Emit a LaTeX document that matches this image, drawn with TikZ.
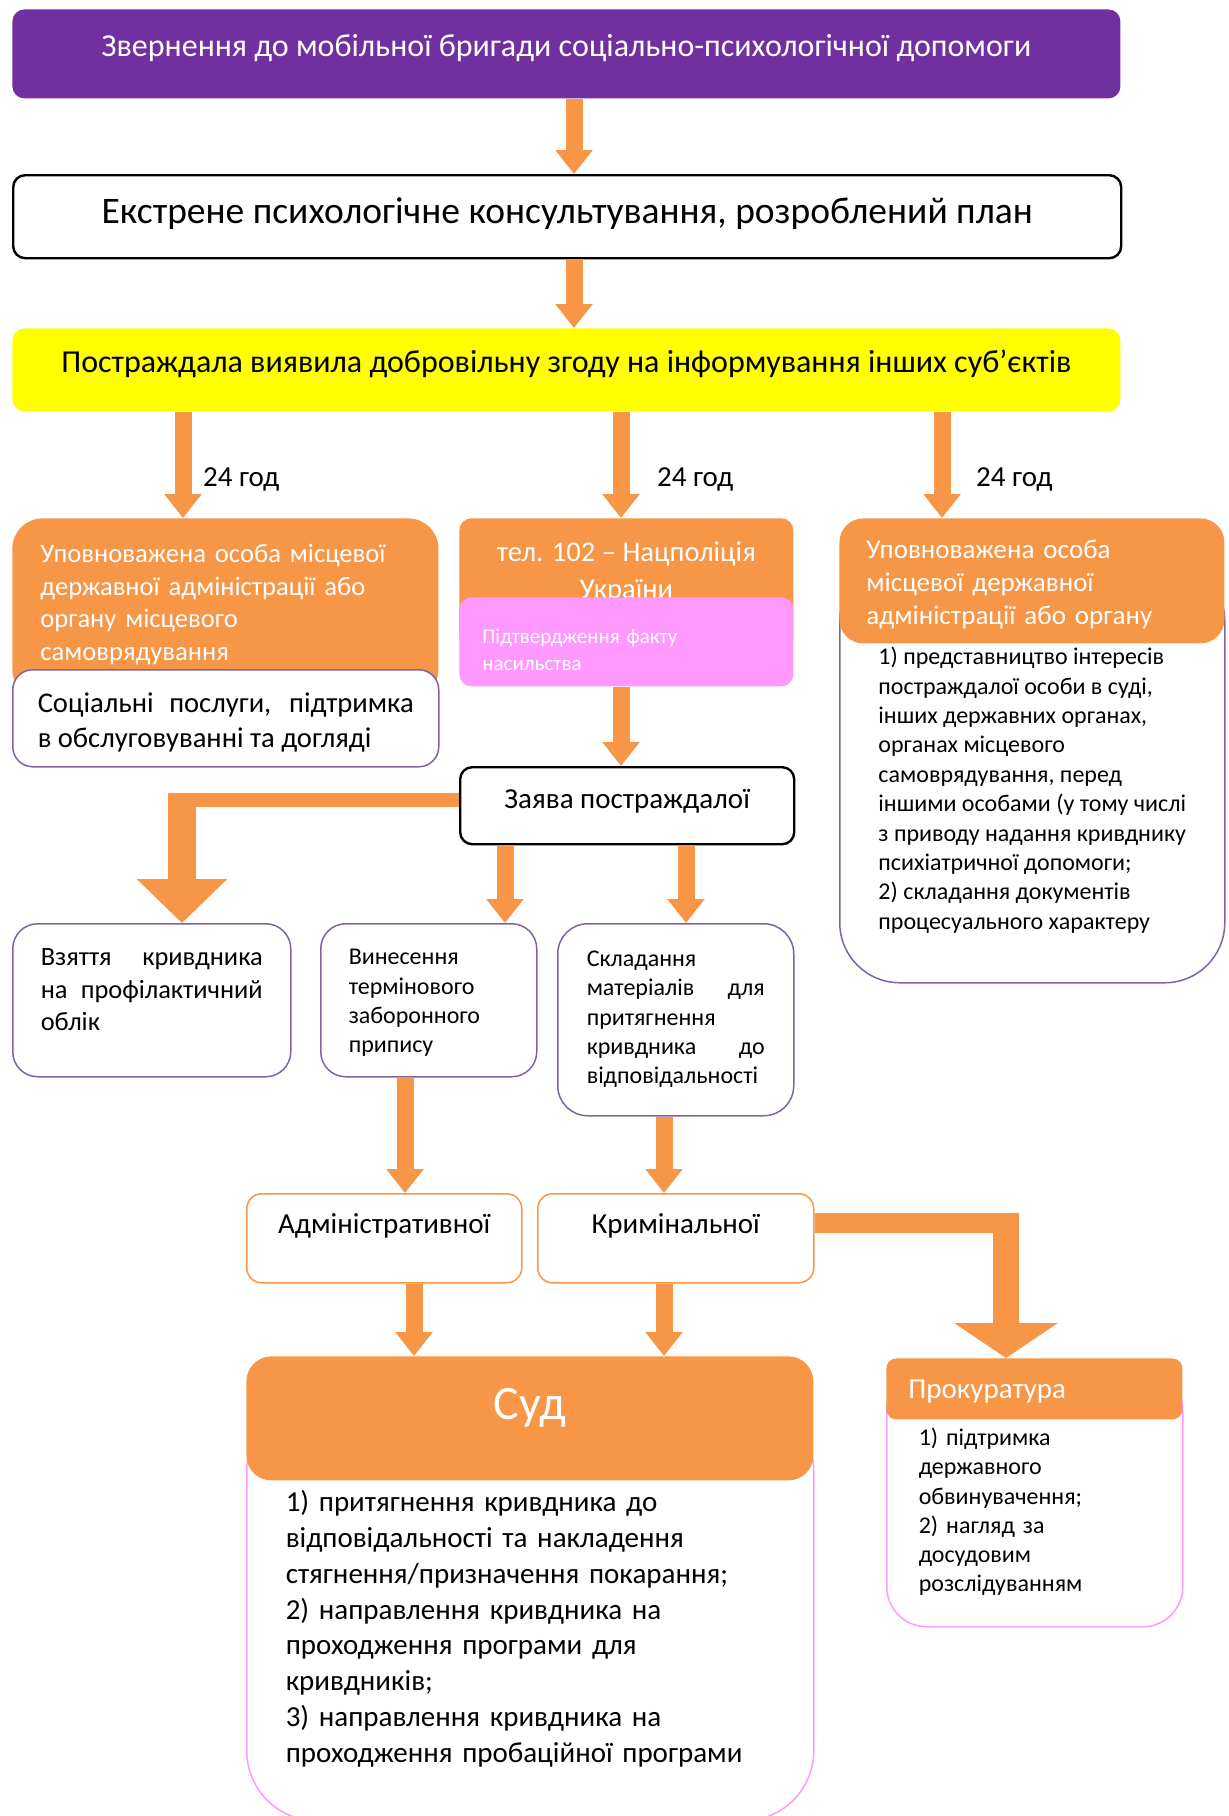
\documentclass[tikz,border=0pt]{standalone}
\usepackage{fontspec}
\setmainfont{Carlito}
\usepackage{xcolor}
\usetikzlibrary{positioning,arrows.meta}
\hyphenpenalty=10000
\exhyphenpenalty=10000
\definecolor{purpc}{HTML}{7030A0}
\definecolor{orangec}{HTML}{F79646}
\definecolor{yellowc}{HTML}{FFFF00}
\definecolor{pinkc}{HTML}{FF99FF}
\definecolor{violc}{HTML}{8064A2}
\newcommand{\fs}[2]{\fontsize{#1}{#2}\selectfont}
\tikzstyle{cellbox} = [anchor=north west, inner ysep=0pt, align=left]
\tikzstyle{banner} = [cellbox, rounded corners=6pt, minimum width=554pt, align=center]
\tikzstyle{hdr} = [cellbox, fill=orangec, text=white]
\tikzstyle{vbdy} = [cellbox, draw=violc, line width=0.75pt, fill=white]
\tikzstyle{pbdy} = [cellbox, draw=pinkc, line width=0.75pt, fill=white]
\tikzstyle{obox} = [cellbox, draw=orangec, line width=0.75pt, rounded corners=7.5pt, align=center, font=\fs{14.5}{17.5}, text height=20pt, text depth=24.5pt]
\tikzstyle{hrs} = [anchor=base west, font=\fs{14.5}{17.5}]
\tikzstyle{line} = [draw=orangec, line width=8.5pt, -{Triangle[width=18pt,length=12pt]}]
\tikzstyle{fatline} = [draw=orangec, line width=14pt, -{Triangle[width=44pt,length=22pt]}]
\tikzstyle{fatlineR} = [draw=orangec, line width=13pt, -{Triangle[width=51pt,length=17.5pt]}]

\begin{document}
\begin{tikzpicture}[x=0.5pt, y=-0.5pt]
        \useasboundingbox (0,0) rectangle (1229,1816);
        % Place nodes
        \node at (12,9) [banner, fill=purpc, text=white, font=\fs{16}{19}, text height=23.5pt, text depth=21pt] (title) {Звернення до мобільної бригади соціально-психологічної допомоги};
        \node at (12,174) [banner, draw=black, line width=1.2pt, font=\fs{18.75}{22}, text height=24pt, text depth=17.5pt] (consult) {Екстрене психологічне консультування, розроблений план};
        \node at (12,328) [banner, fill=yellowc, font=\fs{16}{19}, text height=22pt, text depth=19.5pt] (consent) {Постраждала виявила добровільну згоду на інформування інших суб’єктів};

        \node at (196,486) [hrs] (hrsA) {24 год};
        \node at (650,486) [hrs] (hrsB) {24 год};
        \node at (969,486) [hrs] (hrsC) {24 год};

        \node at (12,518) [hdr, rounded corners=15pt, minimum width=213pt, inner xsep=14pt, text width=185pt, font=\fs{13.3}{16.3}, text height=22pt, text depth=68.5pt] (loc1head) {Уповноважена особа місцевої\\державної адміністрації або\\органу місцевого\\самоврядування};
        \node at (12,669) [vbdy, rounded corners=10pt, minimum width=213pt, inner xsep=12.5pt, text width=188pt, align=justify, font=\fs{14.3}{17.5}, text height=21.5pt, text depth=27pt] (loc1body) {Соціальні послуги, підтримка\linebreak в обслуговуванні та догляді};

        \node at (459,518) [hdr, rounded corners=6pt, minimum width=167pt, align=center, font=\fs{14.3}{18.3}, text height=40pt, text depth=26pt] (police) {тел. 102 – Нацполіція\\України};
        \node at (459,597) [hdr, fill=pinkc, rounded corners=6pt, minimum width=167pt, inner xsep=11.5pt, text width=144pt, font=\fs{10.5}{13.4}, text height=23pt, text depth=21.5pt] (policefact) {Підтвердження факту\\насильства};
        \node at (459,766) [cellbox, draw=black, line width=1.2pt, rounded corners=6pt, minimum width=167pt, align=center, font=\fs{14.5}{17.5}, text height=20.5pt, text depth=18pt] (claim) {Заява постраждалої};

        \node at (839,560) [vbdy, rounded corners=30pt, minimum width=192.5pt, font=\fs{12}{14.7}, text height=184.3pt, text depth=26.7pt] (loc2body) {1) представництво інтересів\\постраждалої особи в суді,\\інших державних органах,\\органах місцевого\\самоврядування, перед\\іншими особами (у тому числі\\з приводу надання кривднику\\психіатричної допомоги;\\2) складання документів\\процесуального характеру};
        \node at (839,518) [hdr, rounded corners=12pt, minimum width=192.5pt, inner xsep=13.5pt, text width=165.5pt, font=\fs{13.5}{16.5}, text height=20pt, text depth=42.5pt] (loc2head) {Уповноважена особа\\місцевої державної\\адміністрації або органу};

        \node at (12,923) [vbdy, rounded corners=12.5pt, minimum width=139pt, inner xsep=14pt, text width=111pt, align=justify, font=\fs{13.2}{16.2}, text height=21pt, text depth=55.5pt] (register) {Взяття кривдника\linebreak на профілактичний\linebreak облік};
        \node at (320,923) [vbdy, rounded corners=12.5pt, minimum width=108pt, inner xsep=14pt, text width=80pt, font=\fs{12}{14.65}, text height=20.5pt, text depth=56pt] (order) {Винесення\\термінового\\заборонного\\припису};
        \node at (557,923) [vbdy, rounded corners=15pt, minimum width=118pt, inner xsep=14.5pt, text width=89pt, align=justify, font=\fs{12}{14.6}, text height=21.5pt, text depth=74.5pt] (materials) {Складання\linebreak матеріалів для\linebreak притягнення\linebreak кривдника до\linebreak відповідальності};

        \node at (246,1193) [obox, minimum width=137.5pt] (admin) {Адміністративної};
        \node at (537,1193) [obox, minimum width=138pt] (crim) {Кримінальної};

        \node at (246,1400) [pbdy, rounded corners=35pt, minimum width=283.5pt, inner xsep=19.5pt, text width=244.5pt, font=\fs{14.5}{17.9}, text height=55.5pt, text depth=154.5pt] (courtbody) {1) притягнення кривдника до\\відповідальності та накладення\\стягнення/призначення покарання;\\2) направлення кривдника на\\проходження програми для\\кривдників;\\3) направлення кривдника на\\проходження пробаційної програми};
        \node at (246,1356) [hdr, rounded corners=12.5pt, minimum width=283.5pt, align=center, font=\fs{24}{28}, text height=31.5pt, text depth=30.5pt] (courthead) {Суд};

        \node at (886,1370) [pbdy, rounded corners=20pt, minimum width=148pt, inner xsep=16pt, text width=116pt, font=\fs{12}{14.6}, text height=37.5pt, text depth=90.5pt] (prosecbody) {1) підтримка\\державного\\обвинувачення;\\2) нагляд за\\досудовим\\розслідуванням};
        \node at (886,1358) [hdr, rounded corners=5pt, minimum width=148pt, inner xsep=11pt, text width=126pt, font=\fs{14.5}{17.5}, text height=20pt, text depth=10.5pt] (prosechead) {Прокуратура};

        \coordinate (bendL) at (182,793);
        \coordinate (bendR) at (1006,1213);

        % Draw edges
        \path [line] (title.south -| 574,0) -- (consult.north -| 574,0);
        \path [line] (consult.south -| 574,0) -- (consent.north -| 574,0);
        \path [line] (consent.south -| 183,0) -- (loc1head.north -| 183,0);
        \path [line] (consent.south -| 621,0) -- (police.north -| 621,0);
        \path [line] (consent.south -| 942,0) -- (loc2head.north -| 942,0);
        \path [line] (policefact.south -| 621,0) -- (claim.north -| 621,0);
        \path [line] (claim.south -| 505,0) -- (order.north -| 505,0);
        \path [line] (claim.south -| 686,0) -- (materials.north -| 686,0);
        \path [line] (order.south -| 405,0) -- (admin.north -| 405,0);
        \path [line] (materials.south -| 664,0) -- (crim.north -| 664,0);
        \path [line] (admin.south -| 414,0) -- (courthead.north -| 414,0);
        \path [line] (crim.south -| 664,0) -- (courthead.north -| 664,0);
        \draw [orangec, line width=7pt] (claim.west |- 0,799.5) -- (bendL |- 0,799.5);
        \path [fatline] (bendL) -- (register.north -| bendL);
        \draw [orangec, line width=10pt] (crim.east |- 0,1223) -- (bendR |- 0,1223);
        \path [fatlineR] (bendR) -- (prosechead.north -| bendR);
\end{tikzpicture}
\end{document}
